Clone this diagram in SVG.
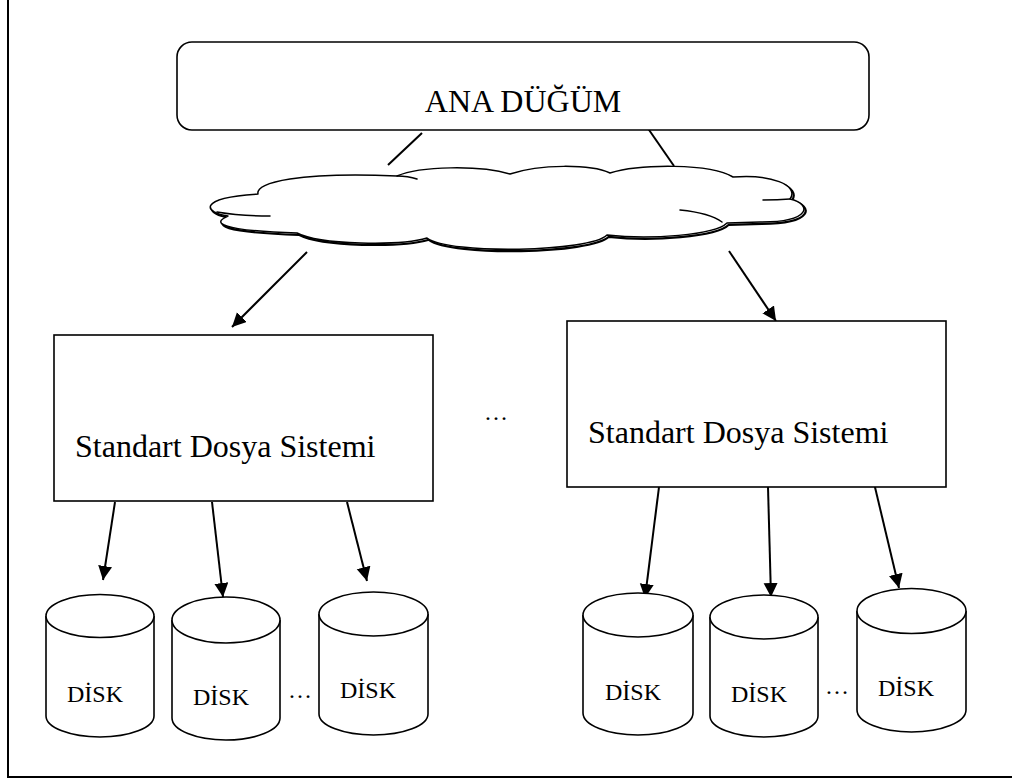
<svg xmlns="http://www.w3.org/2000/svg" width="1012" height="783" viewBox="0 0 1012 783">
<style>
text{font-family:"Liberation Serif","Times New Roman",serif;fill:#000}
.big{font-size:32px}
.disk{font-size:24px}
.box{fill:#fff;stroke:#000;stroke-width:1.6}
.cyl{fill:#fff;stroke:#000;stroke-width:1.6}
.ln{stroke:#000;stroke-width:2;fill:none}
.arr{stroke:#000;stroke-width:2;fill:none;marker-end:url(#ah)}
.cloud{fill:#fff;stroke:#000;stroke-width:1.5;stroke-linejoin:round}
.shadow{fill:none;stroke:#000;stroke-width:2.2;stroke-linejoin:round}
.tail{fill:none;stroke:#000;stroke-width:1.5;stroke-linecap:round}
</style>
<defs>
<marker id="ah" markerUnits="userSpaceOnUse" markerWidth="16" markerHeight="16" refX="14" refY="7" orient="auto">
<path d="M0,0 L14,7 L0,14 Z" fill="#000"/>
</marker>
<path id="cloudShape" d="M258,194 C255,182 300,172 397,176 C420,166 480,165 510,174 C540,164 590,164 610,173 C640,164 710,163 733,177 C770,174 800,185 790,199 C812,204 812,222 760,222 L727,223 C715,235 650,240 607,235 C590,252 450,255 427,238 C400,246 320,245 297,233 C260,232 200,228 228,216 C205,213 195,198 258,194 Z"/>
</defs>
<rect width="1012" height="783" fill="#fff"/>
<g id="frame">
<path d="M8,-2 L8,777 L1014,777" fill="none" stroke="#000" stroke-width="2"/>
</g>
<g id="connectors">
<line class="ln" x1="422" y1="133" x2="388" y2="165"/>
<line class="ln" x1="647" y1="127" x2="674" y2="166"/>
<line class="arr" x1="307" y1="252" x2="232" y2="327"/>
<line class="arr" x1="729" y1="251" x2="776" y2="321"/>
<line class="arr" x1="115" y1="502" x2="103" y2="580"/>
<line class="arr" x1="212" y1="502" x2="223" y2="597"/>
<line class="arr" x1="347" y1="502" x2="367" y2="581"/>
<line class="arr" x1="659" y1="487" x2="645" y2="598"/>
<line class="arr" x1="768" y1="487" x2="771" y2="597"/>
<line class="arr" x1="874" y1="483" x2="899" y2="588"/>
</g>
<g id="ana-dugum">
<rect class="box" x="177" y="42" width="692" height="88" rx="15" ry="15"/>
<text class="big" x="523" y="112" text-anchor="middle">ANA DÜĞÜM</text>
</g>
<g id="cloud">
<use href="#cloudShape" class="shadow" transform="translate(1.8,1.8)"/>
<use href="#cloudShape" class="cloud"/>
<path class="tail" d="M217,212 Q240,216 270,216"/>
<path class="tail" d="M397,176 Q408,176 417,179"/>
<path class="tail" d="M790,199 Q778,200 763,200"/>
<path class="tail" d="M680,210 Q710,213 722,222"/>
</g>
<g id="fs-left">
<rect class="box" x="54" y="335" width="379" height="166"/>
<text class="big" x="75" y="457">Standart Dosya Sistemi</text>
</g>
<g id="fs-right">
<rect class="box" x="567" y="321" width="379" height="166"/>
<text class="big" x="588" y="443">Standart Dosya Sistemi</text>
</g>
<text id="dots-mid" class="disk" x="484" y="420">…</text>
<g id="disk1">
<path class="cyl" d="M46,616 L46,716 A54,21 0 0 0 154,716 L154,616"/>
<ellipse class="cyl" cx="100" cy="616" rx="54" ry="21.5"/>
<text class="disk" x="67" y="702">DİSK</text>
</g>
<g id="disk2">
<path class="cyl" d="M172,620 L172,718 A54,22 0 0 0 280,718 L280,620"/>
<ellipse class="cyl" cx="226" cy="620" rx="54" ry="23"/>
<text class="disk" x="193" y="705">DİSK</text>
</g>
<text id="dots-left" class="disk" x="288" y="698">…</text>
<g id="disk3">
<path class="cyl" d="M319,614 L319,714 A54.5,21 0 0 0 428,714 L428,614"/>
<ellipse class="cyl" cx="373.5" cy="614" rx="54.5" ry="22"/>
<text class="disk" x="340" y="698">DİSK</text>
</g>
<g id="disk4">
<path class="cyl" d="M583,615 L583,713 A55,22 0 0 0 693,713 L693,615"/>
<ellipse class="cyl" cx="638" cy="615" rx="55" ry="22"/>
<text class="disk" x="605" y="700">DİSK</text>
</g>
<g id="disk5">
<path class="cyl" d="M710,617 L710,716 A54,21 0 0 0 818,716 L818,617"/>
<ellipse class="cyl" cx="764" cy="617" rx="54" ry="22"/>
<text class="disk" x="731" y="702">DİSK</text>
</g>
<text id="dots-right" class="disk" x="825" y="694">…</text>
<g id="disk6">
<path class="cyl" d="M857,611 L857,710 A54.5,22 0 0 0 966,710 L966,611"/>
<ellipse class="cyl" cx="911.5" cy="611" rx="54.5" ry="22.5"/>
<text class="disk" x="878" y="696">DİSK</text>
</g>
</svg>
